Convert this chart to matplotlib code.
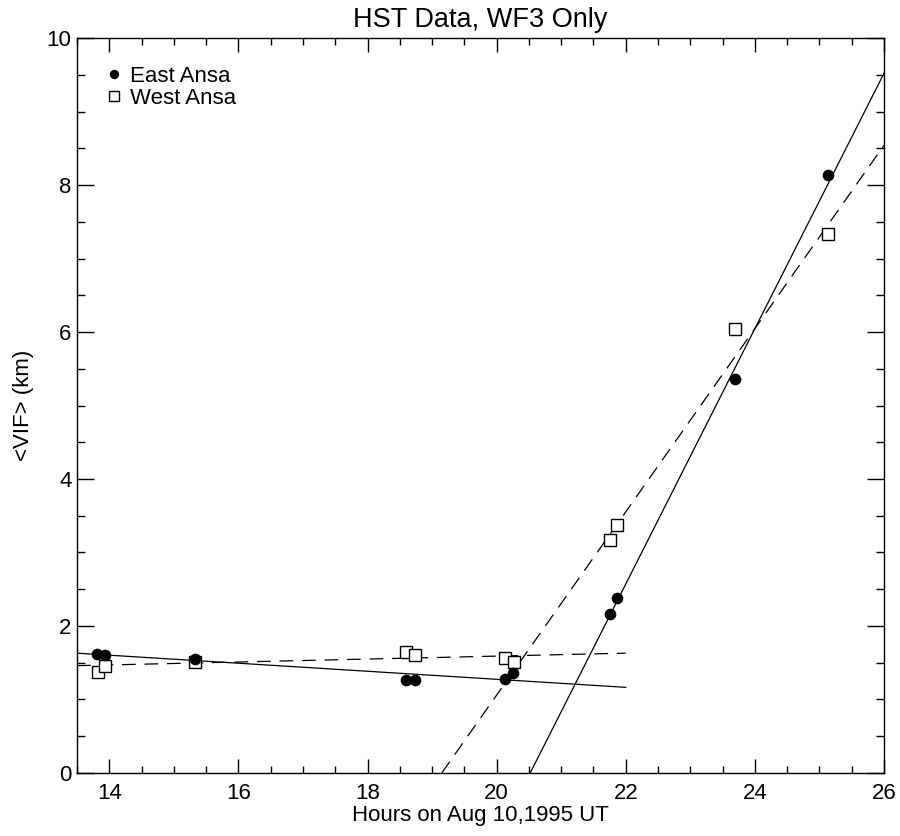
import matplotlib
matplotlib.use("Agg")
import matplotlib.pyplot as plt
from matplotlib.ticker import MultipleLocator

plt.rcParams['font.family'] = ['Liberation Sans', 'DejaVu Sans']

# Data
east_x = [13.81, 13.93, 15.33, 18.60, 18.74, 20.13, 20.26, 21.75, 21.87, 23.69, 25.13]
east_y = [1.62, 1.60, 1.55, 1.265, 1.265, 1.28, 1.36, 2.16, 2.38, 5.36, 8.14]
west_x = [13.82, 13.94, 15.33, 18.60, 18.74, 20.13, 20.27, 21.75, 21.87, 23.69, 25.13]
west_y = [1.38, 1.45, 1.51, 1.65, 1.60, 1.56, 1.51, 3.17, 3.37, 6.04, 7.34]

# Fit lines (endpoints)
east_fit1_x = [13.5, 22.0]
east_fit1_y = [1.63, 1.165]
west_fit1_x = [13.5, 22.0]
west_fit1_y = [1.46, 1.63]
east_fit2_x = [20.52, 26.0]
east_fit2_y = [0.0, 9.52]
west_fit2_x = [19.15, 26.0]
west_fit2_y = [0.0, 8.54]

fig = plt.figure(figsize=(9, 8.36), dpi=100)
ax = fig.add_axes([0.0856, 0.0754, 0.8966, 0.8791])

lw = 0.9
ax.plot(east_fit1_x, east_fit1_y, color='black', lw=lw)
ax.plot(east_fit2_x, east_fit2_y, color='black', lw=lw)
l1, = ax.plot(west_fit1_x, west_fit1_y, color='black', lw=lw)
l1.set_dashes((11, 7))
l2, = ax.plot(west_fit2_x, west_fit2_y, color='black', lw=lw)
l2.set_dashes((11, 7))

hw, = ax.plot(west_x, west_y, 's', markerfacecolor='white', markeredgecolor='black',
              markersize=9.2, markeredgewidth=1.0, linestyle='none', label='West Ansa')
he, = ax.plot(east_x, east_y, 'o', color='black', markersize=8.4, markeredgewidth=0,
              linestyle='none', label='East Ansa')

ax.set_xlim(13.5, 26)
ax.set_ylim(0, 10)
ax.xaxis.set_major_locator(MultipleLocator(2))
ax.xaxis.set_minor_locator(MultipleLocator(0.5))
ax.yaxis.set_major_locator(MultipleLocator(2))
ax.yaxis.set_minor_locator(MultipleLocator(0.5))
ax.tick_params(which='both', direction='in', top=True, right=True, width=1.0,
               labelsize=16)
ax.tick_params(axis='x', which='major', length=10, pad=7)
ax.tick_params(axis='x', which='minor', length=5)
ax.tick_params(axis='y', which='major', length=12, pad=4)
ax.tick_params(axis='y', which='minor', length=6)
for s in ax.spines.values():
    s.set_linewidth(1.0)

ax.set_xlabel('Hours on Aug 10,1995 UT', fontsize=16, labelpad=1)
ax.set_ylabel('<VIF> (km)', fontsize=16, labelpad=9)
ax.set_title('HST Data, WF3 Only', fontsize=19.5, pad=8)

leg = ax.legend(handles=[he, hw], loc='upper left', frameon=False, fontsize=16,
                handlelength=0.7, handletextpad=0.35, borderaxespad=0.0,
                labelspacing=0.05, markerscale=0.8, bbox_to_anchor=(0.0255, 0.974))

fig.savefig('out.png', dpi=100)
